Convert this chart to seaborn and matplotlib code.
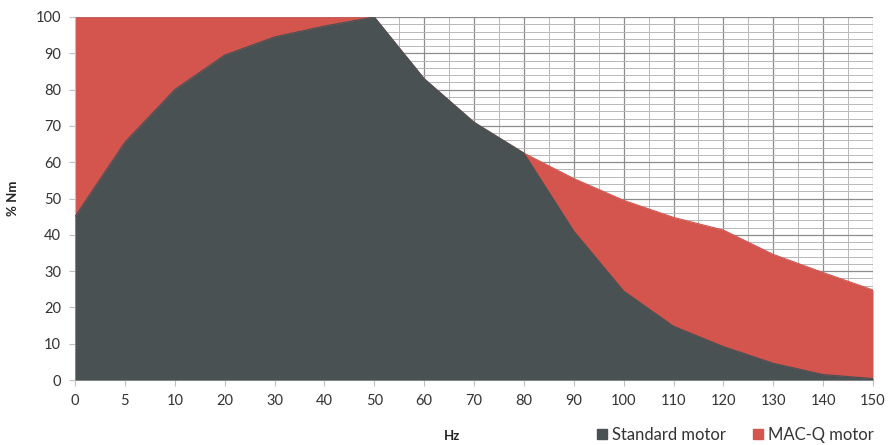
import matplotlib
matplotlib.use("Agg")
import matplotlib.pyplot as plt
import matplotlib.patches as mpatches
from matplotlib.ticker import MultipleLocator
import numpy as np
import pandas as pd
import seaborn as sns

# values (category axis, Hz)
hz = [0, 5, 10, 20, 30, 40, 50, 60, 70, 80, 90, 100, 110, 120, 130, 140, 150]
standard = [45, 65.5, 80, 89.5, 94.5, 97.5, 100, 83, 71, 62.5, 41, 24.5, 14.8, 9.2, 4.6, 1.5, 0.4]
macq = [100, 100, 100, 100, 100, 100, 100, 83, 71, 62.5, 55.5, 49.5, 44.8, 41.3, 34.6, 29.6, 24.8]

dark = "#495153"
red = "#d4544e"

sns.set_theme(style="white")
plt.rcParams["font.family"] = ["Lato", "DejaVu Sans"]

df = pd.DataFrame({"pos": np.arange(len(hz)), "Hz": hz,
                   "Standard motor": standard, "MAC-Q motor": macq})

fig = plt.figure(figsize=(8.89, 4.45), dpi=100)
ax = fig.add_axes([75/889, 1-380/445, 798/889, 363/445])

# MAC-Q behind, standard in front
ax.fill_between(df["pos"], df["MAC-Q motor"], color=red, lw=0, zorder=2)
ax.fill_between(df["pos"], df["Standard motor"], color=dark, lw=0, zorder=3)
sns.lineplot(data=df, x="pos", y="MAC-Q motor", color=red, lw=0.8, ax=ax, zorder=2)
sns.lineplot(data=df, x="pos", y="Standard motor", color=dark, lw=0.8, ax=ax, zorder=3)

ax.set_xlim(0, len(hz) - 1)
ax.set_ylim(0, 100)
ax.set_xticks(df["pos"])
ax.set_xticklabels([str(v) for v in hz])
ax.set_yticks(range(0, 101, 10))
ax.xaxis.set_minor_locator(MultipleLocator(0.5))
ax.yaxis.set_minor_locator(MultipleLocator(2))

ax.set_axisbelow(True)
ax.grid(which="major", color="#8c8c8c", lw=0.9, zorder=0)
ax.grid(which="minor", color="#b8b8b8", lw=0.7, zorder=0)

for s in ["top", "right"]:
    ax.spines[s].set_visible(False)
for s in ["left", "bottom"]:
    ax.spines[s].set_color("#bfbfbf")
    ax.spines[s].set_linewidth(0.8)

ax.tick_params(axis="both", which="major", length=4, width=0.8, color="#bfbfbf",
               labelsize=10.5, labelcolor="#333333", pad=6, direction="out",
               bottom=True, left=True)
ax.tick_params(axis="both", which="minor", length=0)

ax.set_xlabel("")
ax.set_ylabel("% Nm", fontsize=9.5, weight="bold", color="#222222", labelpad=12)
fig.text(452/889, 1-436/445, "Hz", ha="center", va="center",
         fontsize=9.5, weight="bold", color="#222222")

handles = [mpatches.Patch(color=dark, label="Standard motor"),
           mpatches.Patch(color=red, label="MAC-Q motor")]
fig.legend(handles=handles, loc="center", bbox_to_anchor=(0.827, 1-435/445),
           ncol=2, frameon=False, fontsize=12, handlelength=0.6, handleheight=0.6,
           handletextpad=0.3, columnspacing=1.6, labelcolor="#333333")

fig.savefig("out.png", dpi=100)
